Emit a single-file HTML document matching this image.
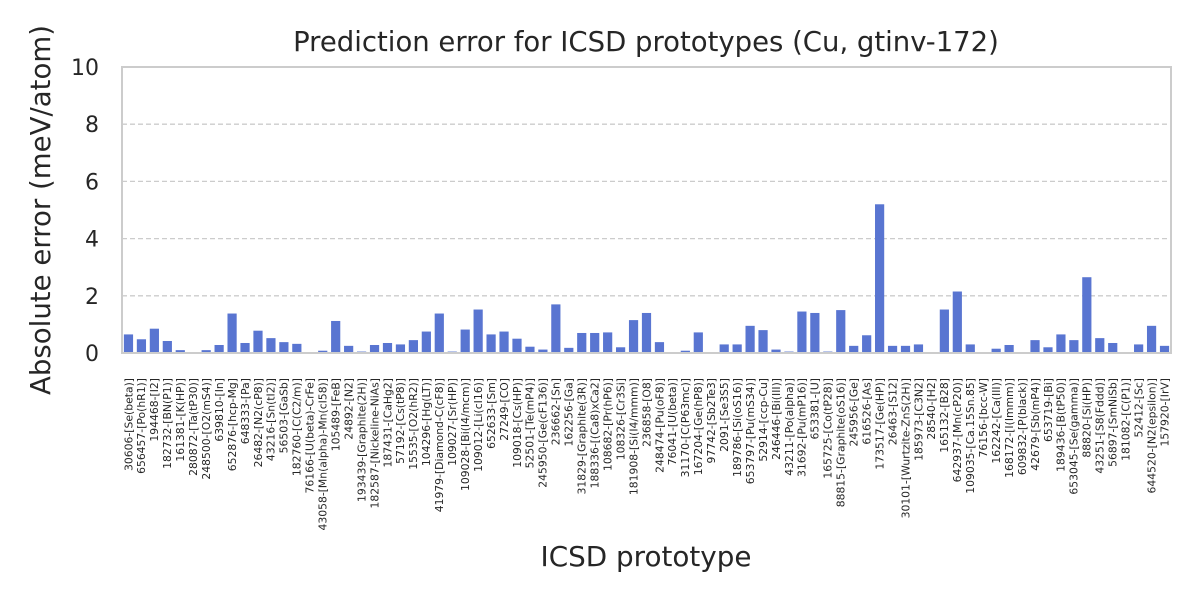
<!DOCTYPE html>
<html><head><meta charset="utf-8"><style>body{margin:0;background:#fff}svg{display:block}text{font-family:"DejaVu Sans","Liberation Sans",sans-serif;fill:#262626}</style></head><body>
<svg width="1200" height="600" xmlns="http://www.w3.org/2000/svg">
<rect width="1200" height="600" fill="#fff"/>
<g id="grid" stroke="#cccccc" stroke-width="1.3" stroke-dasharray="5,3"></g>
<g id="bars" fill="#5975d1"></g>
<rect x="122" y="67" width="1049" height="286" fill="none" stroke="#cccccc" stroke-width="2"/>
<g id="yt" font-size="22" text-anchor="end"></g>
<g id="xt" font-size="10.8" text-anchor="end"></g>
<text x="646" y="51" font-size="27.5" text-anchor="middle">Prediction error for ICSD prototypes (Cu, gtinv-172)</text>
<text x="646" y="566" font-size="27.8" text-anchor="middle">ICSD prototype</text>
<text transform="translate(50,210) rotate(-90)" font-size="27.6" text-anchor="middle">Absolute error (meV/atom)</text>
</svg>
<script>
const d=[["30606-[Se(beta)]",.65],["656457-[Po(hR1)]",.48],["194468-[I2]",.85],["182732-[BN(P1)]",.42],["161381-[K(HP)]",.1],["280872-[Ta(tP30)]",.02],["248500-[O2(mS4)]",.1],["639810-[In]",.28],["652876-[hcp-Mg]",1.38],["648333-[Pa]",.35],["26482-[N2(cP8)]",.78],["43216-[Sn(tI2)]",.52],["56503-[GaSb]",.38],["182760-[C(C2/m)]",.32],["76166-[U(beta)-CrFe]",0],["43058-[Mn(alpha)-Mn(cI58)]",.08],["105489-[FeB]",1.12],["24892-[N2]",.25],["193439-[Graphite(2H)]",.05],["182587-[Nickeline-NiAs]",.28],["187431-[CaHg2]",.35],["57192-[Cs(tP8)]",.3],["15535-[O2(hR2)]",.45],["104296-[Hg(LT)]",.75],["41979-[Diamond-C(cF8)]",1.38],["109027-[Sr(HP)]",.05],["109028-[Bi(I4/mcm)]",.82],["109012-[Li(cI16)]",1.52],["652633-[Sm]",.65],["27249-[CO]",.75],["109018-[Cs(HP)]",.5],["52501-[Te(mP4)]",.22],["245950-[Ge(cF136)]",.12],["236662-[Sn]",1.7],["162256-[Ga]",.18],["31829-[Graphite(3R)]",.7],["188336-[(Ca8)xCa2]",.7],["108682-[Pr(hP6)]",.72],["108326-[Cr3Si]",.2],["181908-[Si(I4/mmm)]",1.15],["236858-[O8]",1.4],["248474-[Pu(oF8)]",.38],["76041-[U(beta)]",0],["31170-[C(P63mc)]",.08],["167204-[Ge(hP8)]",.72],["97742-[Sb2Te3]",0],["2091-[Se3S5]",.3],["189786-[Si(oS16)]",.3],["653797-[Pu(mS34)]",.95],["52914-[ccp-Cu]",.8],["246446-[Bi(III)]",.12],["43211-[Po(alpha)]",.05],["31692-[Pu(mP16)]",1.45],["653381-[U]",1.4],["165725-[Co(tP28)]",.05],["88815-[Graphite(oS16)]",1.5],["245956-[Ge]",.25],["616526-[As]",.62],["173517-[Ge(HP)]",5.2],["26463-[S12]",.25],["30101-[Wurtzite-ZnS(2H)]",.25],["185973-[C3N2]",.3],["28540-[H2]",0],["165132-[B28]",1.52],["642937-[Mn(cP20)]",2.15],["109035-[Ca.15Sn.85]",.3],["76156-[bcc-W]",0],["162242-[Ca(III)]",.15],["168172-[I(Immm)]",.28],["609832-[P(black)]",0],["42679-[Sb(mP4)]",.45],["653719-[Bi]",.2],["189436-[B(tP50)]",.65],["653045-[Se(gamma)]",.45],["88820-[Si(HP)]",2.65],["43251-[S8(Fddd)]",.52],["56897-[SmNiSb]",.35],["181082-[C(P1)]",0],["52412-[Sc]",.3],["644520-[N2(epsilon)]",.95],["157920-[IrV]",.25]];
const NS="http://www.w3.org/2000/svg";
function el(t,a,p,txt){const e=document.createElementNS(NS,t);for(const k in a)e.setAttribute(k,a[k]);if(txt!=null)e.textContent=txt;document.getElementById(p).appendChild(e);}
const y0=353,s=28.6,x0=122,st=1049/81;
for(let v=0;v<=10;v+=2){const y=y0-v*s;if(v>0&&v<10)el("line",{x1:x0,x2:1171,y1:y,y2:y},"grid");el("text",{x:99,y:y+8},"yt",v);}
d.forEach((r,i)=>{const c=x0+st*(i+.5);const h=r[1]*s;el("rect",{x:c-4.6,y:y0-h,width:9.2,height:h},"bars");el("text",{transform:`translate(${c+3.8},378) rotate(-90)`},"xt",r[0]);});
</script>
</body></html>
